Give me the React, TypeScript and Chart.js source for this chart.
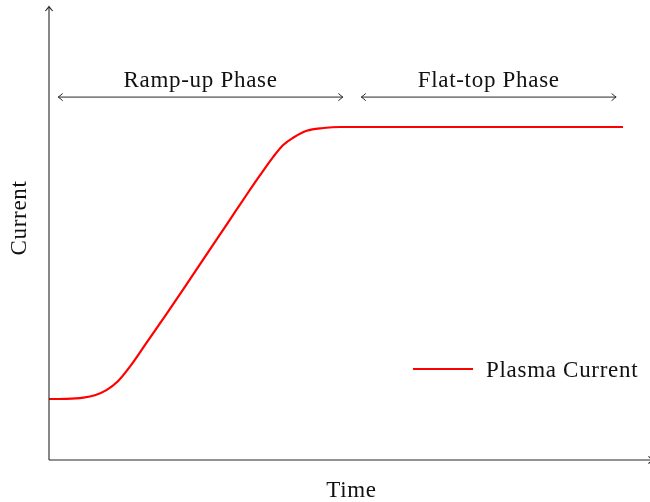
import React, { useEffect, useRef } from "react";
import { Chart, registerables } from "chart.js";

Chart.register(...registerables);

// ---- data ----
const timeValues = [0, 0.3, 0.6, 0.8, 1.0, 1.2, 1.41, 1.71, 2.06, 2.46, 3.15, 3.44, 3.68, 3.91, 4.08, 4.26, 4.49, 4.78, 5.07, 6.5, 8, 10];
const currentValues = [0.2, 0.2005, 0.204, 0.211, 0.226, 0.252, 0.295, 0.368, 0.453, 0.553, 0.727, 0.8, 0.859, 0.913, 0.947, 0.969, 0.989, 0.997, 1.0, 1.0, 1.0, 1.0];
const seriesLabel = "Plasma Current";
const xAxisTitle = "Time";
const yAxisTitle = "Current";
const phaseLabels = ["Ramp-up Phase", "Flat-top Phase"];
const phaseStarts = [0.16, 5.44];
const phaseEnds = [5.12, 9.88];
const phaseArrowLevel = 1.088;
const phaseLabelLevel = 1.118;

const FONT = '"Liberation Serif", "Times New Roman", serif';

function arrowHead(ctx: CanvasRenderingContext2D, x: number, y: number, angle: number) {
  ctx.save();
  ctx.translate(x, y);
  ctx.rotate(angle);
  ctx.beginPath();
  ctx.moveTo(-4.5, -3.6);
  ctx.quadraticCurveTo(-1.5, -1.0, 0, 0);
  ctx.quadraticCurveTo(-1.5, 1.0, -4.5, 3.6);
  ctx.stroke();
  ctx.restore();
}

const decorPlugin = {
  id: "decor",
  afterDraw(chart: any) {
    const ctx: CanvasRenderingContext2D = chart.ctx;
    const xs = chart.scales.x;
    const ys = chart.scales.y;
    const a = chart.chartArea;
    ctx.save();
    // axes
    ctx.strokeStyle = "#262626";
    ctx.lineWidth = 1.1;
    ctx.beginPath();
    ctx.moveTo(a.left, a.bottom);
    ctx.lineTo(a.left, a.top - 1);
    ctx.moveTo(a.left, a.bottom);
    ctx.lineTo(a.right + 3, a.bottom);
    ctx.stroke();
    arrowHead(ctx, a.left, a.top - 1.5, -Math.PI / 2);
    arrowHead(ctx, a.right + 3, a.bottom, 0);

    // phase arrows and labels
    ctx.lineWidth = 1;
    ctx.fillStyle = "#111111";
    ctx.font = `23px ${FONT}`;
    (ctx as any).letterSpacing = "0.7px";
    ctx.textAlign = "center";
    ctx.textBaseline = "alphabetic";
    for (let i = 0; i < phaseLabels.length; i++) {
      const x1 = xs.getPixelForValue(phaseStarts[i]);
      const x2 = xs.getPixelForValue(phaseEnds[i]);
      const y = ys.getPixelForValue(phaseArrowLevel);
      ctx.beginPath();
      ctx.moveTo(x1, y);
      ctx.lineTo(x2, y);
      ctx.stroke();
      arrowHead(ctx, x1, y, Math.PI);
      arrowHead(ctx, x2, y, 0);
      ctx.fillText(phaseLabels[i], (x1 + x2) / 2, ys.getPixelForValue(phaseLabelLevel));
    }

    // legend
    const ds = chart.data.datasets[0];
    const ly = a.top + 361;
    ctx.strokeStyle = ds.borderColor;
    ctx.lineWidth = 2;
    ctx.beginPath();
    ctx.moveTo(413, ly);
    ctx.lineTo(473, ly);
    ctx.stroke();
    ctx.textAlign = "left";
    ctx.fillText(ds.label, 486, ly + 8);

    // axis titles
    ctx.textAlign = "center";
    ctx.fillText(xAxisTitle, (a.left + a.right) / 2 + 2, a.bottom + 37);
    ctx.save();
    ctx.translate(26, 218);
    ctx.rotate(-Math.PI / 2);
    ctx.fillText(yAxisTitle, 0, 0);
    ctx.restore();
    ctx.restore();
  },
};

export default function App() {
  const ref = useRef<HTMLCanvasElement>(null);
  useEffect(() => {
    document.body.style.margin = "0";
    const chart = new Chart(ref.current as HTMLCanvasElement, {
      type: "line",
      data: {
        datasets: [
          {
            label: seriesLabel,
            data: timeValues.map((t, i) => ({ x: t, y: currentValues[i] })),
            borderColor: "#ff0000",
            borderWidth: 2.2,
            pointRadius: 0,
            cubicInterpolationMode: "monotone",
            fill: false,
          },
        ],
      },
      options: {
        animation: false,
        responsive: false,
        layout: { padding: { left: 49, right: 0, top: 8, bottom: 42 } },
        plugins: { legend: { display: false }, tooltip: { enabled: false } },
        scales: {
          x: { type: "linear", min: 0, max: 10.47, display: false },
          y: { type: "linear", min: 0.0206, max: 1.35, display: false },
        },
      },
      plugins: [decorPlugin],
    });
    return () => chart.destroy();
  }, []);
  return <canvas ref={ref} width={650} height={502} style={{ display: "block" }} />;
}
